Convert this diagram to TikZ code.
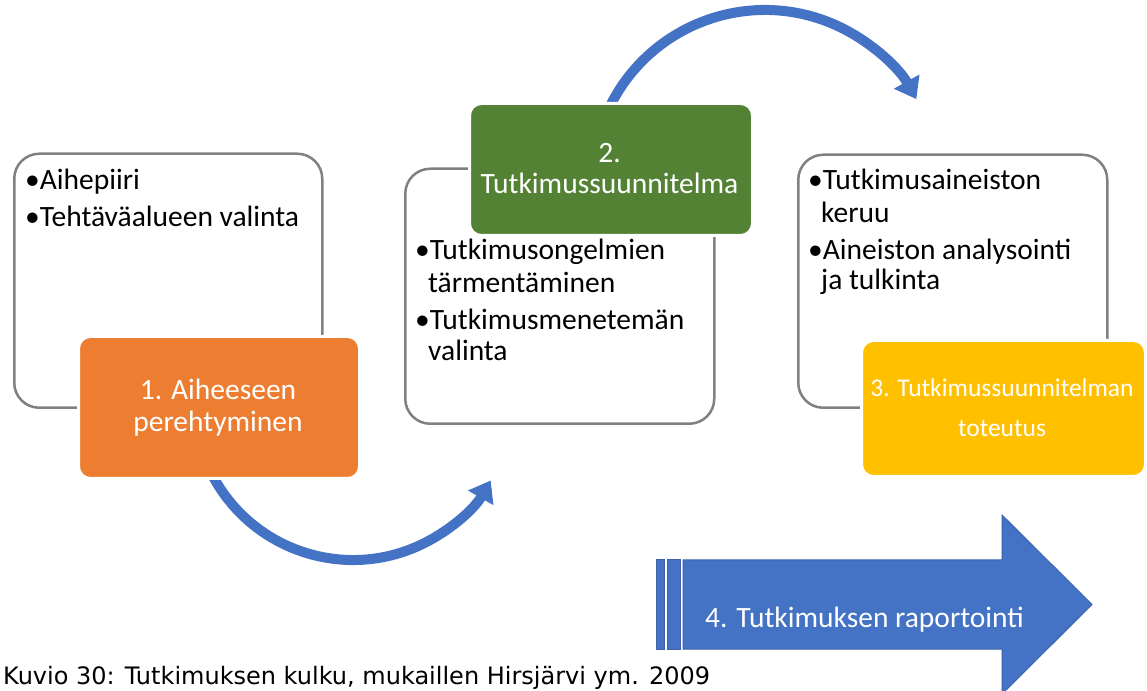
\documentclass[tikz,border=0pt]{standalone}
\usepackage{fontspec}
\setmainfont{Carlito}
\newfontfamily\capfont{DejaVu Sans}
\usetikzlibrary{arrows.meta}
\definecolor{orng}{HTML}{ED7D31}
\definecolor{grn}{HTML}{548235}
\definecolor{ylw}{HTML}{FFC000}
\definecolor{blu}{HTML}{4472C4}
\definecolor{bludk}{HTML}{3A62AE}
\definecolor{frame}{HTML}{808080}
\begin{document}
\begin{tikzpicture}[x=1pt,y=1pt,
 whitebox/.style={draw=frame, line width=2.5pt, fill=white, rounded corners=25pt, anchor=south west, inner sep=0pt},
 colbox/.style={draw=white, line width=3pt, rounded corners=12pt, anchor=south west, inner sep=0pt},
 btxt/.style={anchor=base west, inner sep=0pt, font=\fontsize{29.5}{33}\selectfont, text=black},
 wtxt/.style={anchor=base, inner sep=0pt, font=\fontsize{29.5}{33}\selectfont, text=white},
 ytxt/.style={anchor=base, inner sep=0pt, font=\fontsize{25.5}{30}\selectfont, text=white},
 flow/.style={draw=blu, line width=10pt, -{Triangle[width=28pt,length=20pt]}},
 bigarrow/.style={fill=blu, draw=bludk, line width=1pt}]
\useasboundingbox (0,0) rectangle (1147,690);
\clip (0,0) rectangle (1147,690);

% white boxes
\node[whitebox, minimum width=308pt, minimum height=254pt] (w1) at (13,281) {};
\node[whitebox, minimum width=309pt, minimum height=255pt] (w2) at (404,265) {};
\node[whitebox, minimum width=309pt, minimum height=253pt] (w3) at (797,281) {};

% curved arrows
\coordinate (c1) at (353,289);
\coordinate (c2) at (765,507);
\draw[flow] (c1) ++(205:159) coordinate (s1) arc[start angle=205, end angle=330, radius=159];
\draw[flow] (c2) ++(153:173) coordinate (s2) arc[start angle=153, end angle=29, radius=173];

% coloured boxes
\node[colbox, fill=orng, minimum width=281pt, minimum height=142pt] (o1) at (77,210) {};
\node[colbox, fill=grn, minimum width=283pt, minimum height=132pt] (g2) at (468,453) {};
\node[colbox, fill=ylw, minimum width=284pt, minimum height=136pt] (y3) at (860,212) {};

% texts box 1
\node[btxt] (t11) at (25,500) {•Aihepiiri};
\node[btxt] (t12) at (25,463) {•Tehtäväalueen valinta};
\node[wtxt] (o1a) at (218,290) {1. Aiheeseen};
\node[wtxt] (o1b) at (218,258) {perehtyminen};

% texts box 2
\node[wtxt] (g2a) at (609.5,527) {2.};
\node[wtxt] (g2b) at (609.5,496) {Tutkimussuunnitelma};
\node[btxt] (t21) at (415,430) {•Tutkimusongelmien};
\node[btxt] (t22) at (428,397) {tärmentäminen};
\node[btxt] (t23) at (415,360) {•Tutkimusmenetemän};
\node[btxt] (t24) at (428,329) {valinta};

% texts box 3
\node[btxt] (t31) at (808,500) {•Tutkimusaineiston};
\node[btxt] (t32) at (821,467) {keruu};
\node[btxt] (t33) at (808,430) {•Aineiston analysointi};
\node[btxt] (t34) at (821,400) {ja tulkinta};
\node[ytxt] (y3a) at (1002,293) {3. Tutkimussuunnitelman};
\node[ytxt] (y3b) at (1002,253) {toteutus};

% big arrow
\draw[bigarrow] (656,41) rectangle (664,130);
\draw[bigarrow] (667,41) rectangle (680,130);
\draw[bigarrow] (683,130) -- (1002,130) -- (1002,175) -- (1092,85.5) -- (1002,-4) -- (1002,41) -- (683,41) -- cycle;
\node[anchor=base west, inner sep=0pt, text=white, font=\fontsize{29.5}{33}\selectfont] (t4) at (705,62) {4. Tutkimuksen raportointi};

% caption
\node[anchor=base west, inner sep=0pt, font=\capfont\fontsize{24}{28}\selectfont] (cap) at (3,6) {Kuvio 30: Tutkimuksen kulku, mukaillen Hirsjärvi ym. 2009};
\end{tikzpicture}
\end{document}
